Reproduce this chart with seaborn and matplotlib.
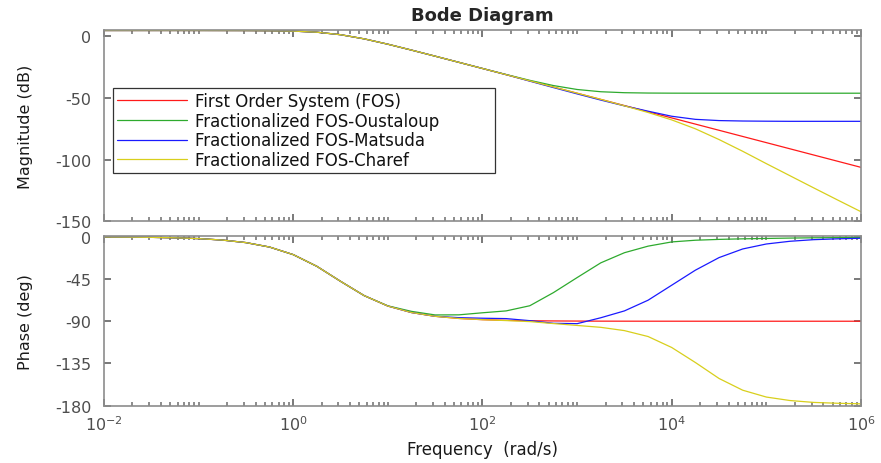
import numpy as np
import pandas as pd
import matplotlib
matplotlib.use("Agg")
import matplotlib.pyplot as plt
from matplotlib.ticker import FixedLocator, LogLocator, NullFormatter, LogFormatterMathtext
import seaborn as sns

# Frequency grid, as powers of ten (rad/s)
log_freq = [-2.0, -1.75, -1.5, -1.25, -1.0, -0.75, -0.5, -0.25, 0.0, 0.25, 0.5,
            0.75, 1.0, 1.25, 1.5, 1.75, 2.0, 2.25, 2.5, 2.75, 3.0, 3.25, 3.5,
            3.75, 4.0, 4.25, 4.5, 4.75, 5.0, 5.25, 5.5, 5.75, 6.0]

series_names = ["First Order System (FOS)",
                "Fractionalized FOS-Oustaloup",
                "Fractionalized FOS-Matsuda",
                "Fractionalized FOS-Charef"]

# Magnitude (dB)
mag_fos = [4.4, 4.4, 4.4, 4.4, 4.4, 4.38, 4.35, 4.24, 3.91, 3.01, 1.0, -2.38,
           -6.7, -11.47, -16.39, -21.36, -26.35, -31.35, -36.35, -41.35, -46.35,
           -51.35, -56.35, -61.35, -66.35, -71.35, -76.35, -81.35, -86.35,
           -91.35, -96.35, -101.35, -106.35]
mag_oustaloup = [4.4, 4.4, 4.4, 4.4, 4.4, 4.38, 4.35, 4.24, 3.91, 3.01, 1.0, -2.38,
                 -6.7, -11.47, -16.39, -21.35, -26.31, -31.22, -35.94, -40.16,
                 -43.34, -45.16, -45.94, -46.22, -46.31, -46.34, -46.35, -46.35,
                 -46.35, -46.35, -46.35, -46.35, -46.35]
mag_matsuda = [4.4, 4.4, 4.4, 4.4, 4.4, 4.38, 4.35, 4.24, 3.91, 3.01, 1.0, -2.38,
               -6.7, -11.47, -16.39, -21.36, -26.35, -31.35, -36.6, -41.8, -46.9,
               -51.9, -56.6, -60.9, -65.0, -67.5, -68.5, -68.85, -69.0, -69.1,
               -69.1, -69.1, -69.1]
mag_charef = [4.4, 4.4, 4.4, 4.4, 4.4, 4.38, 4.35, 4.24, 3.91, 3.01, 1.0, -2.38,
              -6.7, -11.47, -16.39, -21.36, -26.35, -31.35, -36.35, -41.35, -46.35,
              -51.35, -56.55, -61.95, -67.95, -75.15, -83.85, -93.35, -103.35,
              -113.15, -122.95, -132.65, -142.25]

# Phase (deg)
ph_fos = [-0.2, -0.35, -0.62, -1.11, -1.97, -3.51, -6.22, -10.97, -19.03, -31.51,
          -47.47, -62.72, -73.83, -80.74, -84.76, -87.05, -88.34, -89.07, -89.47,
          -89.7, -89.83, -89.91, -89.95, -89.97, -89.98, -89.99, -90.0, -90.0,
          -90.0, -90.0, -90.0, -90.0, -90.0]
ph_oustaloup = [-0.2, -0.35, -0.62, -1.11, -1.97, -3.51, -6.22, -10.97, -19.03,
                -31.51, -47.47, -62.72, -73.6, -79.5, -83.3, -83.2, -81.0, -79.0,
                -73.5, -59.5, -43.5, -27.8, -17.0, -10.0, -5.5, -3.7, -2.8, -2.2,
                -1.8, -1.4, -1.1, -0.9, -0.7]
ph_matsuda = [-0.2, -0.35, -0.62, -1.11, -1.97, -3.51, -6.22, -10.97, -19.03,
              -31.51, -47.47, -62.72, -73.83, -80.74, -84.76, -86.2, -86.8, -87.2,
              -89.4, -92.2, -92.6, -86.3, -79.0, -67.6, -51.6, -35.6, -22.2, -13.0,
              -7.7, -4.8, -3.1, -2.2, -1.6]
ph_charef = [-0.2, -0.35, -0.62, -1.11, -1.97, -3.51, -6.22, -10.97, -19.03,
             -31.51, -47.47, -62.72, -73.83, -80.74, -84.76, -87.05, -88.34, -89.3,
             -90.4, -92.5, -94.5, -96.5, -100.0, -106.3, -118.0, -134.0, -151.0,
             -163.5, -170.8, -174.5, -176.5, -177.4, -178.0]

mag_ticks = [0, -50, -100, -150]
phase_ticks = [0, -45, -90, -135, -180]
freq_major = [1e-2, 1e0, 1e2, 1e4, 1e6]

colors = ["#ff1a1a", "#2eaa2e", "#1a1aff", "#d8cf1c"]

freq = [10.0 ** e for e in log_freq]
mags = [mag_fos, mag_oustaloup, mag_matsuda, mag_charef]
phases = [ph_fos, ph_oustaloup, ph_matsuda, ph_charef]
df = pd.concat([
    pd.DataFrame({"freq": freq, "mag": m, "phase": p, "series": name})
    for name, m, p in zip(series_names, mags, phases)
], ignore_index=True)

sns.set_theme(style="white")
plt.rcParams["font.family"] = ["DejaVu Sans"]
plt.rcParams["axes.unicode_minus"] = False
plt.rcParams["mathtext.default"] = "regular"

fig = plt.figure(figsize=(8.81, 4.64), dpi=100)
ax1 = fig.add_axes([0.118, 0.5209, 0.8593, 0.4123])
ax2 = fig.add_axes([0.118, 0.1235, 0.8593, 0.3651])

palette = dict(zip(series_names, colors))
sns.lineplot(data=df, x="freq", y="mag", hue="series", hue_order=series_names,
             palette=palette, estimator=None, sort=False, linewidth=0.9,
             legend=False, ax=ax1)
sns.lineplot(data=df, x="freq", y="phase", hue="series", hue_order=series_names,
             palette=palette, estimator=None, sort=False, linewidth=0.9,
             legend=False, ax=ax2)

tick_color = "#4d4d4d"
for ax in (ax1, ax2):
    ax.set_xscale("log")
    ax.set_xlim(1e-2, 1e6)
    ax.xaxis.set_major_locator(FixedLocator(freq_major))
    ax.xaxis.set_minor_locator(LogLocator(base=10, subs=np.arange(1, 10), numticks=200))
    ax.xaxis.set_minor_formatter(NullFormatter())
    ax.tick_params(which="both", direction="in", top=True, right=True,
                   left=True, bottom=True, color="#6e6e6e", labelcolor=tick_color,
                   labelsize=11.5)
    ax.tick_params(which="major", length=5, width=1.3)
    ax.tick_params(which="minor", length=3, width=1.1)
    ax.tick_params(axis="y", pad=9)
    for sp in ax.spines.values():
        sp.set_visible(True)
        sp.set_color("#8c8c8c")
        sp.set_linewidth(1.2)
    ax.set_xlabel("")

ax1.set_ylim(-150, 4.8)
ax1.set_yticks(mag_ticks)
ax1.set_yticklabels([str(t) for t in mag_ticks])
ax1.tick_params(axis="x", labelbottom=False)
ax1.set_ylabel("Magnitude (dB)", fontsize=11.5, color="#1a1a1a")
ax1.yaxis.set_label_coords(-0.094, 0.5)
ax1.set_title("Bode Diagram", fontsize=13, fontweight="bold", pad=7)

ax2.set_ylim(-180, 0.5)
ax2.set_yticks(phase_ticks)
ax2.set_yticklabels([str(t) for t in phase_ticks])
ax2.xaxis.set_major_formatter(LogFormatterMathtext())
ax2.tick_params(axis="x", pad=6)
ax2.set_ylabel("Phase (deg)", fontsize=11.5, color="#1a1a1a")
ax2.yaxis.set_label_coords(-0.094, 0.5)
ax2.set_xlabel("Frequency  (rad/s)", fontsize=12, color="#1a1a1a", labelpad=5)

leg = ax1.legend(handles=ax1.get_lines()[:4], labels=series_names,
                 loc="upper left", bbox_to_anchor=(0.0119, 0.268, 0.5046, 0.429),
                 mode="expand", borderaxespad=0, fontsize=12, frameon=True,
                 fancybox=False, framealpha=1, edgecolor="#333333",
                 handlelength=4.2, handletextpad=0.45, borderpad=0.25,
                 labelspacing=0.1)
leg.get_frame().set_linewidth(0.9)
for t in leg.get_texts():
    t.set_color("#111111")

fig.savefig("out.png", dpi=100)
